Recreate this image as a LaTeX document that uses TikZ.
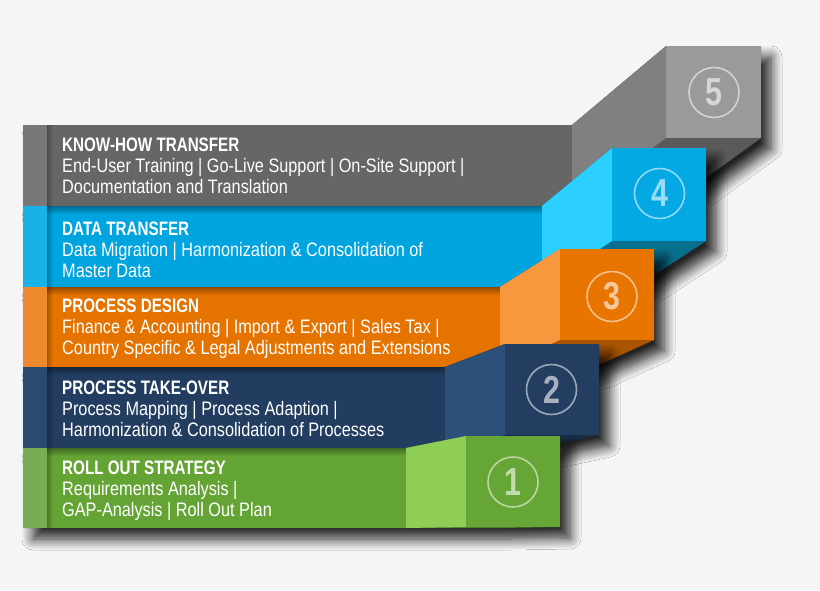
\documentclass[tikz,border=0pt]{standalone}
\usepackage{fontspec}
\setmainfont{Liberation Sans}
\newfontfamily\bandfont{Liberation Sans}[FakeStretch=0.835]
\newfontfamily\headfont{Liberation Sans}[FakeStretch=0.78]
\usetikzlibrary{shadows.blur,fadings}

\definecolor{bgcol}{HTML}{F5F5F5}
\definecolor{grayband}{HTML}{666666}
\definecolor{graystrip}{HTML}{787878}
\definecolor{grayside}{HTML}{808080}
\definecolor{grayfront}{HTML}{9A9A9A}
\definecolor{graybottom}{HTML}{5A5A5A}
\definecolor{blueband}{HTML}{00A4DE}
\definecolor{bluestrip}{HTML}{18B1E8}
\definecolor{blueside}{HTML}{2BD0FF}
\definecolor{bluefront}{HTML}{04A9E3}
\definecolor{bluebottom}{HTML}{086F8E}
\definecolor{orangeband}{HTML}{E57300}
\definecolor{orangestrip}{HTML}{F08A2E}
\definecolor{orangeside}{HTML}{F7983F}
\definecolor{orangefront}{HTML}{E77500}
\definecolor{orangebottom}{HTML}{A95400}
\definecolor{navyband}{HTML}{223D5F}
\definecolor{navystrip}{HTML}{2A4A6F}
\definecolor{navyside}{HTML}{2B5079}
\definecolor{navyfront}{HTML}{233E60}
\definecolor{navybottom}{HTML}{192C45}
\definecolor{greenband}{HTML}{64A435}
\definecolor{greenstrip}{HTML}{78AC55}
\definecolor{greenside}{HTML}{8FCE56}
\definecolor{greenfront}{HTML}{66A636}
\definecolor{greenbottom}{HTML}{4E8028}

\begin{document}
\begin{tikzpicture}[x=1pt,y=-1pt,
  shad/.style={blur shadow={shadow xshift=10pt,shadow yshift=-11pt,shadow blur radius=11pt,shadow blur steps=10,shadow opacity=85}},
  topfade/.style={black,fill opacity=0.35,path fading=south},
  leftfade/.style={black,fill opacity=0.25,path fading=east},
  bandtext/.style={anchor=north west,align=left,inner sep=0pt,text=white,font=\bandfont\fontsize{19.5}{21}\selectfont},
  ring/.style={shape=circle,draw=white,draw opacity=0.55,line width=1.6pt,minimum size=50pt,inner sep=0pt,text=white,text opacity=0.6,font=\headfont\bfseries\fontsize{39}{39}\selectfont}]

\fill[bgcol] (0,0) rectangle (820,590);
\useasboundingbox (0,0) rectangle (820,590);

% step 5
\fill[shad,graybottom] (23,125) -- (572,125) -- (666,46) -- (761,46) -- (761,138) -- (667,206) -- (23,206) -- cycle;
\fill[grayband] (23,125) rectangle (572,206);
\fill[graystrip] (23,125) rectangle (47,206);
\fill[leftfade] (47,125) rectangle (53,206);
\fill[grayside] (572,125) -- (666,46) -- (666,138) -- (572,206) -- cycle;
\fill[grayfront] (666,46) rectangle (761,138);
\path (714,92.5) node (N5) [ring] {5};
\path (62,138) node (T5) [bandtext] {{\headfont\bfseries KNOW-HOW TRANSFER}\\End-User Training | Go-Live Support | On-Site Support |\\Documentation and Translation};

% step 4
\fill[shad,bluebottom] (23,206) -- (542,206) -- (612,148) -- (706,148) -- (706,241) -- (636,287) -- (23,287) -- cycle;
\fill[blueband] (23,206) rectangle (542,287);
\fill[bluestrip] (23,206) rectangle (47,287);
\fill[topfade] (47,206) rectangle (542,214);
\fill[leftfade] (47,206) rectangle (53,287);
\fill[blueside] (542,206) -- (612,148) -- (612,241) -- (542,287) -- cycle;
\fill[bluefront] (612,148) rectangle (706,241);
\path (659.5,193.5) node (N4) [ring] {4};
\path (62,222) node (T4) [bandtext] {{\headfont\bfseries DATA TRANSFER}\\Data Migration | Harmonization \& Consolidation of\\Master Data};

% step 3
\fill[shad,orangebottom] (23,287) -- (500,287) -- (560,249) -- (654,249) -- (654,340) -- (594,367) -- (23,367) -- cycle;
\fill[orangeband] (23,287) rectangle (500,367);
\fill[orangestrip] (23,287) rectangle (47,367);
\fill[topfade] (47,287) rectangle (500,295);
\fill[leftfade] (47,287) rectangle (53,367);
\fill[orangeside] (500,287) -- (560,249) -- (560,340) -- (500,367) -- cycle;
\fill[orangefront] (560,249) rectangle (654,340);
\path (612,296.5) node (N3) [ring] {3};
\path (62,299) node (T3) [bandtext] {{\headfont\bfseries PROCESS DESIGN}\\Finance \& Accounting | Import \& Export | Sales Tax |\\Country Specific \& Legal Adjustments and Extensions};

% step 2
\fill[shad,navybottom] (23,367) -- (445,367) -- (505,344) -- (599,344) -- (599,435) -- (539,448) -- (23,448) -- cycle;
\fill[navyband] (23,367) rectangle (445,448);
\fill[navystrip] (23,367) rectangle (47,448);
\fill[topfade] (47,367) rectangle (445,375);
\fill[leftfade] (47,367) rectangle (53,448);
\fill[navyside] (445,367) -- (505,344) -- (505,435) -- (445,448) -- cycle;
\fill[navyfront] (505,344) rectangle (599,435);
\path (551.5,389.5) node (N2) [ring] {2};
\path (62,381) node (T2) [bandtext] {{\headfont\bfseries PROCESS TAKE-OVER}\\Process Mapping | Process Adaption |\\Harmonization \& Consolidation of Processes};

% step 1
\fill[shad,greenbottom] (23,448) -- (406,448) -- (466,436) -- (560,436) -- (560,527) -- (500,528) -- (23,528) -- cycle;
\fill[greenband] (23,448) rectangle (406,528);
\fill[greenstrip] (23,448) rectangle (47,528);
\fill[topfade] (47,448) rectangle (406,456);
\fill[leftfade] (47,448) rectangle (53,528);
\fill[greenside] (406,448) -- (466,436) -- (466,527) -- (406,528) -- cycle;
\fill[greenfront] (466,436) rectangle (560,527);
\path (513,482) node (N1) [ring] {1};
\path (62,461) node (T1) [bandtext] {{\headfont\bfseries ROLL OUT STRATEGY}\\Requirements Analysis |\\GAP-Analysis | Roll Out Plan};

\end{tikzpicture}
\end{document}
